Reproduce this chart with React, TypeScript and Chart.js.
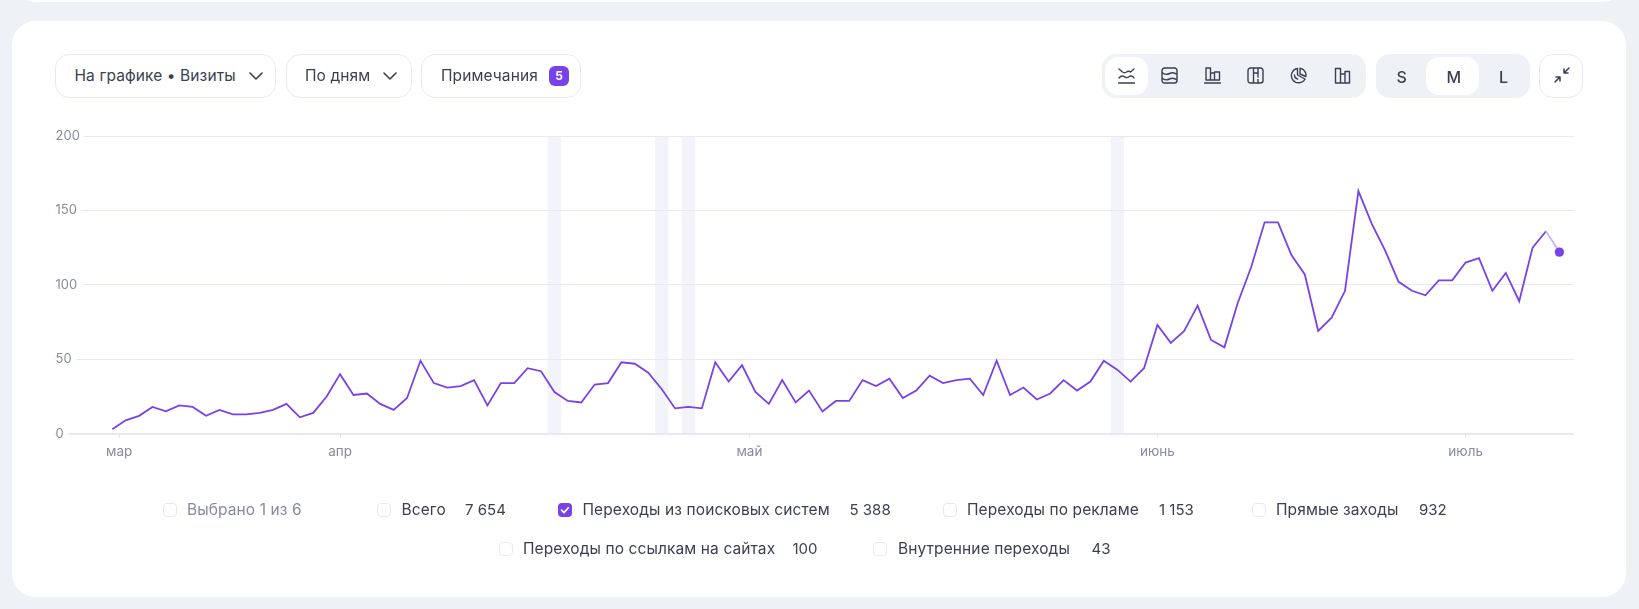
import React, { useEffect, useRef } from "react";
import { Chart, registerables } from "chart.js";

Chart.register(...registerables);

const searchVisits = [
  3, 9, 12, 18, 15, 19, 18, 12, 16, 13, 13, 14, 16, 20, 11, 14, 25, 40, 26, 27, 20, 16, 24, 49, 34, 31, 32, 36, 19, 34, 34, 44, 42, 28,
  22, 21, 33, 34, 48, 47, 41, 30, 17, 18, 17, 48, 35, 46, 28, 20, 36, 21, 29, 15, 22, 22, 36, 32, 37, 24, 29, 39, 34, 36, 37, 26, 49, 26,
  31, 23, 27, 36, 29, 35, 49, 43, 35, 44, 73, 61, 69, 86, 63, 58, 88, 112, 142, 142, 120, 107, 69, 78, 96, 163, 141, 123, 102, 96, 93, 103, 103, 115, 118, 96, 108, 89, 125, 136, 122,
];
const monthLabels = ["мар", "апр", "май", "июнь", "июль"];
const monthPositions = [0.52, 17, 47.55, 78, 101];
const noteDays = [33, 41, 43, 75];
const yTicks = [0, 50, 100, 150, 200];

const legendNames = ["Всего", "Переходы из поисковых систем", "Переходы по рекламе", "Прямые заходы", "Переходы по ссылкам на сайтах", "Внутренние переходы"];
const legendTotals = ["7 654", "5 388", "1 153", "932", "100", "43"];
const legendChecked = [false, true, false, false, false, false];
const legendBoxX = [377, 558, 943, 1252, 499, 873];
const legendTextX = [401.5, 582.5, 967, 1276, 523, 898];
const legendValueX = [465, 849.5, 1159, 1419, 792.5, 1091.5];
const legendRowY = [510, 510, 510, 510, 549, 549];

const INK = "#3a3f52";
const PURPLE = "#7743e8";
const FONT = "Inter, 'Noto Sans', sans-serif";

const noteBands = {
  id: "noteBands",
  beforeDraw(chart: any) {
    const { ctx, chartArea, scales } = chart;
    ctx.save();
    ctx.fillStyle = "#f3f4f9";
    noteDays.forEach((d) => {
      const a = scales.x.getPixelForValue(d - 0.5);
      const b = scales.x.getPixelForValue(d + 0.5);
      ctx.fillRect(a, chartArea.top, b - a, chartArea.bottom - chartArea.top);
    });
    ctx.restore();
  },
};

const box = (left: number, top: number, width: number, height: number, extra: any = {}) => ({
  position: "absolute" as const,
  left,
  top,
  width,
  height,
  boxSizing: "border-box" as const,
  ...extra,
});

const label = (left: number, cy: number, text: string, extra: any = {}) => (
  <div
    style={{
      position: "absolute",
      left,
      top: cy - 12,
      height: 24,
      lineHeight: "24px",
      fontFamily: FONT,
      fontSize: 15.5,
      letterSpacing: "0.1px",
      color: INK,
      whiteSpace: "nowrap",
      ...extra,
    }}
  >
    {text}
  </div>
);

const numeric = { fontSize: 15, letterSpacing: "0px" };

const Chevron = ({ x }: { x: number }) => (
  <svg style={box(x, 70, 14, 12)} viewBox="0 0 14 12" fill="none">
    <path d="M1 3l6 6 6-6" stroke={INK} strokeWidth="1.6" strokeLinecap="round" strokeLinejoin="round" />
  </svg>
);

const iconPaths = [
  "M0.5 16h16M1 2l3.5 3c1.5 1 2.5 1 4 0s2.5-1 4 0l3.5-3M1 11c2-2.5 3.5-2.5 5.5-1.2s3 1.3 4.5 0 3.5-1.3 5 1.2",
  "M3.5 1h10a2.5 2.5 0 0 1 2.5 2.5v10a2.5 2.5 0 0 1-2.5 2.5h-10a2.5 2.5 0 0 1-2.5-2.5v-10a2.5 2.5 0 0 1 2.5-2.5zM1 5.5c2.5 2.5 4.5 2.5 7.5 1s5-1 7.5 1M1 11c2.5 2.5 4.5 2.5 7.5 1s5-1 7.5 1",
  "M0.5 16h16M2 1h4.5v12h-4.5zM6.5 6h4v7h-4zM10.5 5h5v8h-5z",
  "M3.5 1h10a2.5 2.5 0 0 1 2.5 2.5v10a2.5 2.5 0 0 1-2.5 2.5h-10a2.5 2.5 0 0 1-2.5-2.5v-10a2.5 2.5 0 0 1 2.5-2.5zM6.5 1v15M11 1v9M11 12.5v3.5M6.5 6h4.5",
  "M7.5 1.5a7.2 7.2 0 1 0 7.5 10.5l-7.5-4zM10 1.2a7 7 0 0 1 5.8 8.3l-5.8-2.5zM4.5 8a4 4 0 0 0 3 4",
  "M1.5 1.5h5v14.5h-5zM6.5 7h4.5v9h-4.5zM11 4.5h4.5v11.5h-4.5z",
];
const iconCenters = [1126.5, 1169, 1212.5, 1255.5, 1298.5, 1342.5];

export default function App() {
  const ref = useRef<HTMLCanvasElement>(null);

  useEffect(() => {
    const last = searchVisits.length - 1;
    const chart = new Chart(ref.current as HTMLCanvasElement, {
      type: "line",
      data: {
        datasets: [
          {
            data: searchVisits.map((v, i) => ({ x: i, y: v })),
            borderColor: PURPLE,
            borderWidth: 1.8,
            tension: 0,
            fill: false,
            segment: {
              borderColor: (ctx: any) => (ctx.p1DataIndex === last ? "#c9b5f5" : PURPLE),
            },
            pointRadius: (ctx: any) => (ctx.dataIndex === last ? 4.7 : 0),
            pointBackgroundColor: PURPLE,
            pointBorderColor: PURPLE,
            pointBorderWidth: 0,
            clip: false,
          },
        ],
      },
      options: {
        animation: false,
        responsive: false,
        devicePixelRatio: 1,
        layout: { padding: { left: 55.5, right: 65, top: 136, bottom: 0 } },
        plugins: { legend: { display: false }, tooltip: { enabled: false } },
        scales: {
          x: {
            type: "linear",
            min: -2.11,
            max: 109.09,
            border: { display: false },
            grid: { drawOnChartArea: false, drawTicks: true, tickLength: 4, tickColor: "#e0e2ee", lineWidth: 1 },
            afterBuildTicks: (s: any) => {
              s.ticks = monthPositions.map((value) => ({ value }));
            },
            afterFit: (s: any) => {
              s.height = 175.3;
            },
            ticks: {
              autoSkip: false,
              maxRotation: 0,
              padding: 6,
              color: "#868ba1",
              font: { family: FONT, size: 13.5 },
              callback: (_v: any, i: number) => monthLabels[i],
            },
          },
          y: {
            min: 0,
            max: 200,
            border: { display: false },
            afterBuildTicks: (s: any) => {
              s.ticks = yTicks.map((value) => ({ value }));
            },
            afterFit: (s: any) => {
              s.width = 28.5;
            },
            grid: {
              color: "#e7e8f3",
              tickColor: "#e7e8f3",
              tickLength: 29,
              lineWidth: (ctx: any) => (ctx.tick && ctx.tick.value === 0 ? 2 : 1),
            },
            ticks: {
              crossAlign: "far",
              padding: 0,
              color: "#868ba1",
              font: { family: FONT, size: 13 },
              showLabelBackdrop: true,
              backdropColor: "#ffffff",
              backdropPadding: { left: 0, right: 5, top: 2, bottom: 2 },
            },
          },
        },
      },
      plugins: [noteBands],
    } as any);
    return () => chart.destroy();
  }, []);

  const border = { border: "1.5px solid #e7e8f3", borderRadius: 14, background: "#fff" };

  return (
    <div style={{ position: "absolute", left: 0, top: 0, width: 1639, height: 609, overflow: "hidden", background: "#eef1f6" }}>
      <div style={box(12, -100, 1614, 102, { background: "#fff", borderRadius: 24 })} />
      <div style={box(12, 21, 1614, 576, { background: "#fff", borderRadius: 24 })} />

      <canvas ref={ref} width={1639} height={609} style={{ position: "absolute", left: 0, top: 0, width: 1639, height: 609 }} />

      <div style={box(55, 54, 221, 44, border)} />
      {label(74.5, 76, "На графике • Визиты")}
      <Chevron x={249} />
      <div style={box(286, 54, 126, 44, border)} />
      {label(305, 76, "По дням")}
      <Chevron x={383} />
      <div style={box(421, 54, 160, 44, border)} />
      {label(441, 76, "Примечания")}
      <div
        style={box(549, 66, 20, 20, {
          background: PURPLE,
          borderRadius: 6,
          color: "#fff",
          fontFamily: FONT,
          fontSize: 12,
          fontWeight: 700,
          textAlign: "center",
          lineHeight: "20px",
        })}
      >
        5
      </div>

      <div style={box(1102, 54, 264, 44, { background: "#eef1f6", borderRadius: 14 })} />
      <div style={box(1105, 57, 43, 38, { background: "#fff", borderRadius: 13 })} />
      {iconPaths.map((d, i) => (
        <svg key={i} style={box(iconCenters[i] - 8.5, 67, 17, 17)} viewBox="0 0 17 17" fill="none">
          <path d={d} stroke={INK} strokeWidth="1.4" strokeLinecap="round" strokeLinejoin="round" />
        </svg>
      ))}

      <div style={box(1376, 54, 154, 44, { background: "#eef1f6", borderRadius: 14 })} />
      <div style={box(1426, 57, 53, 38, { background: "#fff", borderRadius: 13 })} />
      {label(1396.5, 76.5, "S", { fontWeight: 500, fontSize: 16 })}
      {label(1446.5, 76.5, "M", { fontWeight: 500, fontSize: 16 })}
      {label(1499, 76.5, "L", { fontWeight: 500, fontSize: 16 })}

      <div style={box(1539, 54, 44, 44, border)} />
      <svg style={box(1552, 65, 20, 20)} viewBox="0 0 20 20" fill="none">
        <path d="M17 3l-5 5M12 4v4h4M3 17l5-5M4 12h4v4" stroke={INK} strokeWidth="1.5" strokeLinecap="round" strokeLinejoin="round" />
      </svg>

      <div style={box(163, 503, 14, 14, { border: "1.5px solid #e7e8f3", borderRadius: 4, background: "#fff" })} />
      {label(187, 510, "Выбрано 1 из 6", { color: "#868ba1" })}

      {legendNames.map((name, i) => (
        <React.Fragment key={name}>
          {legendChecked[i] ? (
            <svg style={box(legendBoxX[i], legendRowY[i] - 7, 14, 14)} viewBox="0 0 14 14">
              <rect width="14" height="14" rx="4" fill={PURPLE} />
              <path d="M3.6 7.2l2.4 2.4 4.4-4.8" stroke="#fff" strokeWidth="1.7" fill="none" strokeLinecap="round" strokeLinejoin="round" />
            </svg>
          ) : (
            <div style={box(legendBoxX[i], legendRowY[i] - 7, 14, 14, { border: "1.5px solid #e7e8f3", borderRadius: 4, background: "#fff" })} />
          )}
          {label(legendTextX[i], legendRowY[i], name)}
          {label(legendValueX[i], legendRowY[i], legendTotals[i], numeric)}
        </React.Fragment>
      ))}
    </div>
  );
}
